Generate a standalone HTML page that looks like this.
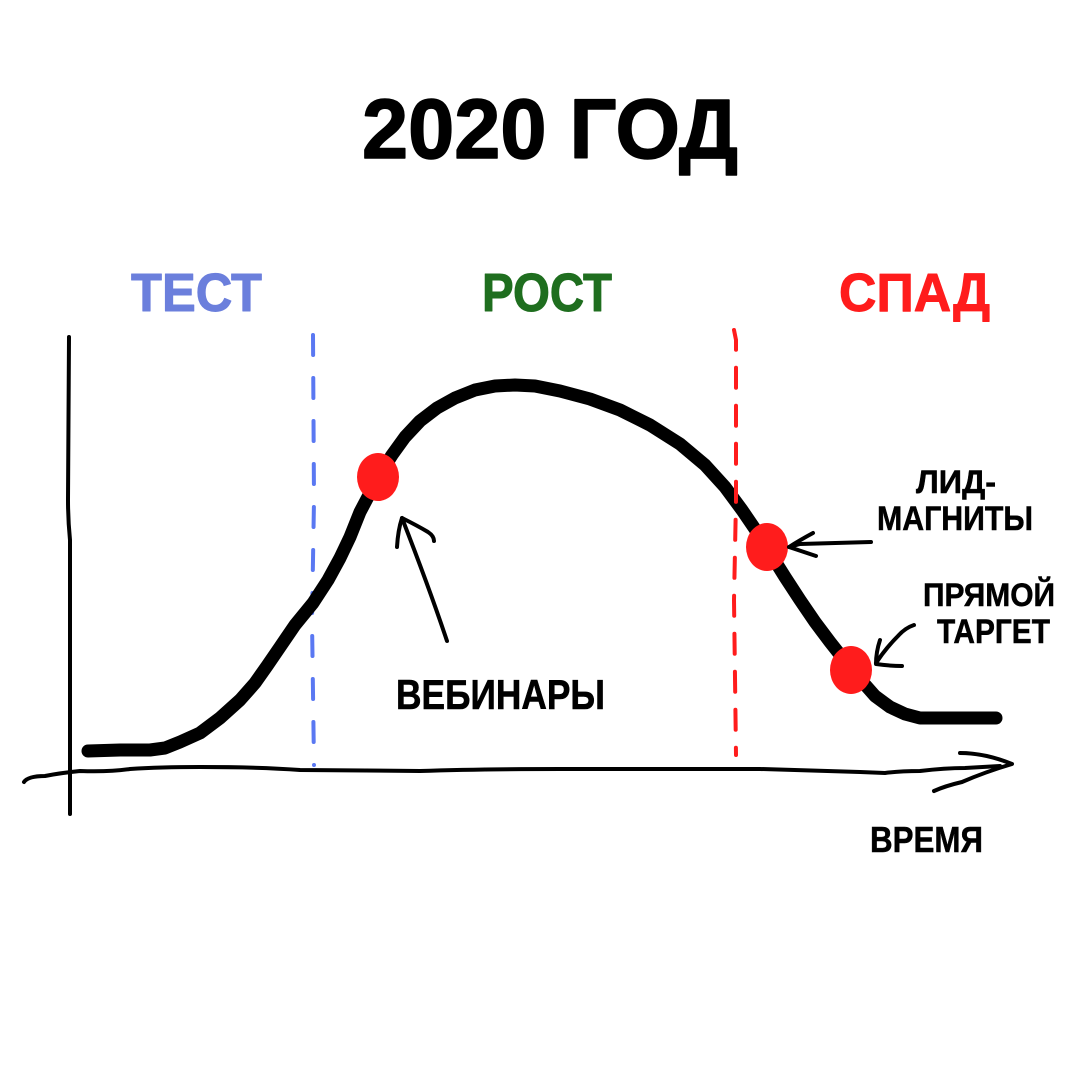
<!DOCTYPE html>
<html>
<head>
<meta charset="utf-8">
<style>
html,body{margin:0;padding:0;background:#fff;}
svg{display:block;}
text{font-family:"Liberation Sans","DejaVu Sans",sans-serif;font-weight:bold;}
</style>
</head>
<body>
<svg width="1080" height="1080" viewBox="0 0 1080 1080" xmlns="http://www.w3.org/2000/svg">
<rect width="1080" height="1080" fill="#fff"/>

<!-- Title -->
<text x="362" y="158" font-size="84" fill="#000" stroke="#000" stroke-width="1.5" stroke-linejoin="round" textLength="376" lengthAdjust="spacingAndGlyphs">2020 ГОД</text>

<!-- Phase labels -->
<text x="131" y="311" font-size="54" fill="#6b7fdc" stroke="#6b7fdc" stroke-width="1" stroke-linejoin="round" textLength="131" lengthAdjust="spacingAndGlyphs">ТЕСТ</text>
<text x="482" y="311" font-size="54" fill="#1f6e1f" stroke="#1f6e1f" stroke-width="1" stroke-linejoin="round" textLength="130" lengthAdjust="spacingAndGlyphs">РОСТ</text>
<text x="839" y="311" font-size="54" fill="#ff1c1c" stroke="#ff1c1c" stroke-width="1" stroke-linejoin="round" textLength="151" lengthAdjust="spacingAndGlyphs">СПАД</text>

<!-- Y axis -->
<path d="M69,337 L68,500 Q68,520 70,540 L70,814" fill="none" stroke="#000" stroke-width="4" stroke-linecap="round"/>

<!-- X axis -->
<path d="M24,782 Q28,776 45,776 Q60,773 80,771 Q110,772 130,769 Q160,767 200,767 Q260,767 300,770 L420,771 Q480,769 560,769 L760,769 Q820,771 860,772 L885,773 Q900,771 920,771 Q945,768 965,768 L1000,766" fill="none" stroke="#000" stroke-width="4" stroke-linecap="round" stroke-linejoin="round"/>
<path d="M960,753 Q985,753 1012,764 Q985,772 962,782 Q945,786 934,791" fill="none" stroke="#000" stroke-width="4" stroke-linecap="round" stroke-linejoin="round"/>

<!-- Blue dashed line -->
<path d="M313,335 L314,500 L312,620 L314,765" fill="none" stroke="#5a78f2" stroke-width="4" stroke-dasharray="20 23" stroke-linecap="round"/>

<!-- Main curve -->
<polyline points="88,751 120,750 150,750 165,748 180,742 200,733 220,718 240,700 255,683 267,666 280,647 295,625 313,603 328,580 340,558 350,537 360,512 370,493 380,474 392,455 405,437 420,421 437,408 455,398 475,390 495,386 515,385 535,386 560,391 590,399 620,410 650,425 680,444 705,465 725,487 742,510 757,532 770,553 785,577 800,600 815,622 830,642 845,661 860,679 875,696 890,707 905,714 920,718 996,718" fill="none" stroke="#000" stroke-width="13" stroke-linecap="round" stroke-linejoin="round"/>

<!-- Red dashed line (over curve) -->
<path d="M734,330 L736,340 L736,500 L734,600 L736,755" fill="none" stroke="#ff1c1c" stroke-width="4" stroke-dasharray="20 18" stroke-linecap="round"/>

<!-- Red dots -->
<ellipse cx="378" cy="477" rx="21" ry="24" fill="#ff1c1c"/>
<ellipse cx="767" cy="547" rx="21" ry="24" fill="#ff1c1c"/>
<ellipse cx="851" cy="670" rx="21" ry="24" fill="#ff1c1c"/>

<!-- Вебинары arrow -->
<path d="M447,641 Q430,590 402,518" fill="none" stroke="#000" stroke-width="4" stroke-linecap="round"/>
<path d="M397,547 Q398,530 402,518 Q418,526 428,532 Q434,536 434,541" fill="none" stroke="#000" stroke-width="4" stroke-linecap="round" stroke-linejoin="round"/>

<!-- Лид-магниты arrow -->
<path d="M871,542 L800,544 L789,547" fill="none" stroke="#000" stroke-width="4" stroke-linecap="round"/>
<path d="M813,533 Q800,540 789,547 Q804,552 816,556" fill="none" stroke="#000" stroke-width="4" stroke-linecap="round" stroke-linejoin="round"/>

<!-- Прямой таргет arrow -->
<path d="M914,625 Q905,628 898,636 Q886,648 876,663" fill="none" stroke="#000" stroke-width="4" stroke-linecap="round"/>
<path d="M880,640 Q876,652 876,664 Q890,666 902,666" fill="none" stroke="#000" stroke-width="4" stroke-linecap="round" stroke-linejoin="round"/>

<!-- Labels -->
<text x="396" y="709" font-size="42" fill="#000" stroke="#000" stroke-width="0.6" textLength="209" lengthAdjust="spacingAndGlyphs">ВЕБИНАРЫ</text>
<text x="916" y="493" font-size="32" fill="#000" stroke="#000" stroke-width="0.5" textLength="80" lengthAdjust="spacingAndGlyphs">ЛИД-</text>
<text x="877" y="530" font-size="34" fill="#000" stroke="#000" stroke-width="0.5" textLength="156" lengthAdjust="spacingAndGlyphs">МАГНИТЫ</text>
<text x="923" y="606" font-size="32" fill="#000" stroke="#000" stroke-width="0.5" textLength="132" lengthAdjust="spacingAndGlyphs">ПРЯМОЙ</text>
<text x="937" y="643" font-size="34" fill="#000" stroke="#000" stroke-width="0.5" textLength="113" lengthAdjust="spacingAndGlyphs">ТАРГЕТ</text>
<text x="870" y="852" font-size="36" fill="#000" stroke="#000" stroke-width="0.5" textLength="113" lengthAdjust="spacingAndGlyphs">ВРЕМЯ</text>
</svg>
</body>
</html>
